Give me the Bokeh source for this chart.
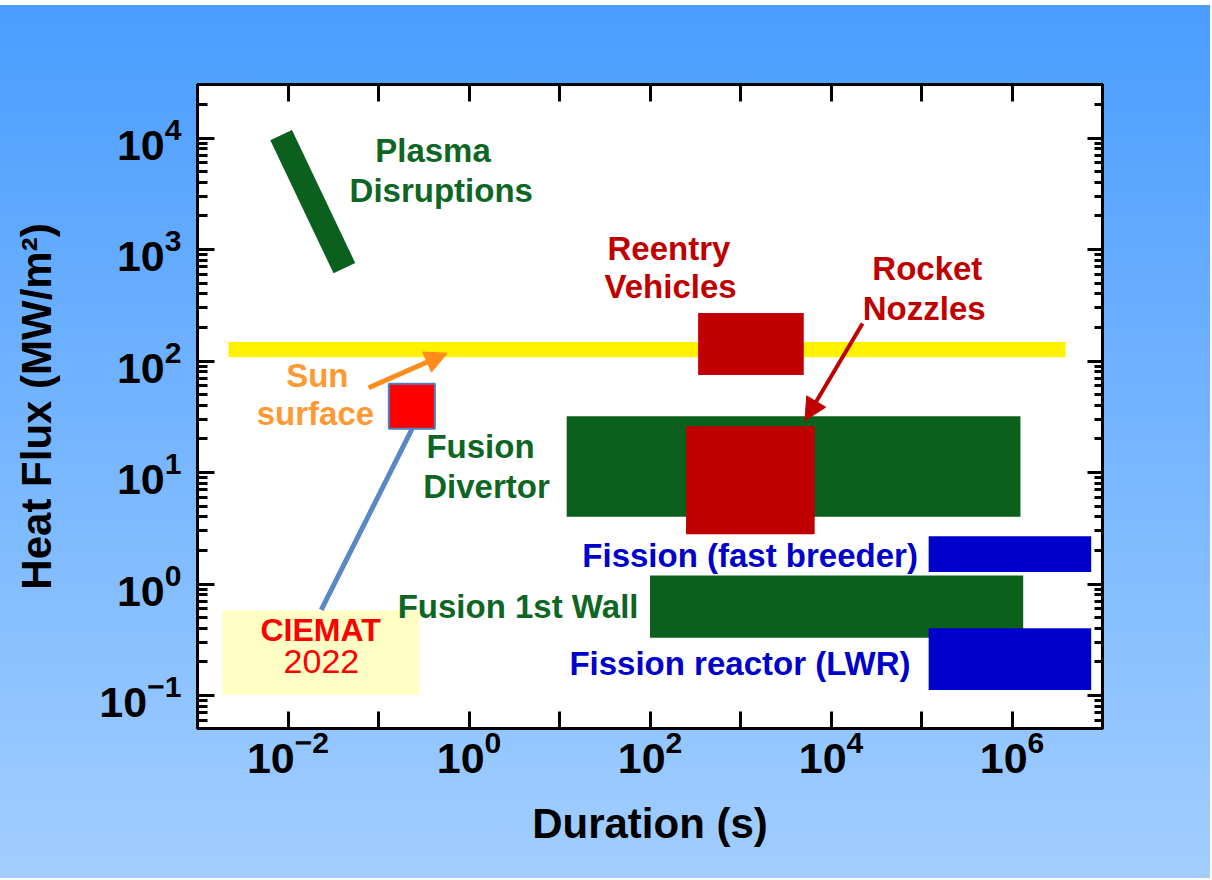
from bokeh.plotting import figure
from bokeh.models import LogAxis, FixedTicker, Arrow, NormalHead, ColumnDataSource
from bokeh.core.properties import value
from bokeh.embed import file_html
from bokeh.resources import INLINE

# ---------------- data ----------------
# rectangular regimes: duration range (s) x heat-flux range (MW/m2)
box_names = ["Sun surface", "Reentry Vehicles", "Fusion Divertor", "Rocket Nozzles",
             "Fusion 1st Wall", "Fission (fast breeder)", "Fission reactor (LWR)",
             "CIEMAT label", "CIEMAT 2022"]
dur_min = [2.2e-3, 340, 12, 250, 100, 1.2e5, 1.2e5, 1.87e-3, 0.13]
dur_max = [3.9e6, 5000, 1.24e6, 6600, 1.33e6, 7.5e6, 7.5e6, 0.284, 0.42]
flux_min = [108, 75, 4.0, 2.8, 0.33, 1.28, 0.112, 0.101, 24.7]
flux_max = [148, 270, 32, 26, 1.19, 2.68, 0.40, 0.578, 62.5]
box_colors = ["#FFF200", "#C00000", "#0C601E", "#C00000", "#0C601E",
              "#0000CC", "#0000CC", "#FFFFC6", "#FF0000"]
box_lines = [None, None, None, None, None, None, None, None, "#4F81BD"]

# plasma disruptions band (start / end of the band)
plasma_dur = [0.0084, 0.042]
plasma_flux = [10600, 680]

# leader line from CIEMAT point to its label
ciemat_line_dur = [0.2355, 0.0233]
ciemat_line_flux = [24.7, 0.587]

# arrows: (x_start, y_start, x_end, y_end)
sun_arrow = (0.078, 57.5, 0.574, 117.5)
rocket_arrow = (2.23e4, 217, 5160, 29.3)

# text labels
label_text = ["Plasma", "Disruptions", "Reentry", "Vehicles", "Rocket", "Nozzles",
              "Sun", "surface", "Fusion", "Divertor"]
label_x = [0.40, 0.494, 162, 169, 1.16e5, 1.07e5, 0.0211, 0.0201, 1.34, 1.56]
label_y = [6070, 2655, 797, 364, 527, 231, 58.2, 26.4, 13.4, 5.85]
label_color = ["#0E6624", "#0E6624", "#C00000", "#C00000", "#C00000", "#C00000",
               "#FF9933", "#FF9933", "#0E6624", "#0E6624"]

rlabel_text = ["Fission (fast breeder)", "Fusion 1st Wall", "Fission reactor (LWR)"]
rlabel_x = [9.12e4, 74.6, 7.55e4]
rlabel_y = [1.415, 0.491, 0.151]
rlabel_color = ["#0000CC", "#0E6624", "#0000CC"]

x_major = [1e-2, 1e0, 1e2, 1e4, 1e6]
x_minor = [1e-3, 1e-1, 1e1, 1e3, 1e5, 1e7]
x_all = [10.0 ** k for k in range(-3, 8)]
y_major = [10.0 ** k for k in range(-1, 5)]
y_minor = [m * 10.0 ** k for k in range(-2, 5) for m in range(2, 10)]

FONT = "Liberation Sans"
TEXT_SHIFT = -12  # screen-pixel nudge for the in-plot labels

p = figure(x_axis_type="log", y_axis_type="log",
           x_range=(1e-3, 1e7), y_range=(10 ** -1.296, 10 ** 4.48),
           frame_width=905, frame_height=644,
           min_border_left=197, min_border_right=108,
           min_border_top=84, min_border_bottom=150,
           toolbar_location=None, output_backend="svg",
           background_fill_color="white", border_fill_alpha=0.0,
           outline_line_color="black", outline_line_width=3)
p.styles = {"background": "linear-gradient(to bottom, #FFFFFF 0px, #FFFFFF 5px, #4A9DFF 5px, #A2CEFF 100%)"}
p.xgrid.grid_line_color = None
p.ygrid.grid_line_color = None


def style_axis(ax, major_in, minor_in):
    ax.axis_line_width = 3
    ax.axis_line_color = "black"
    ax.major_tick_line_width = 3
    ax.minor_tick_line_width = 3
    ax.major_tick_in = major_in
    ax.major_tick_out = 0
    ax.minor_tick_in = minor_in
    ax.minor_tick_out = 0
    ax.major_label_text_font = FONT
    ax.major_label_text_font_style = "bold"
    ax.major_label_text_font_size = "43px"
    ax.major_label_text_color = "black"
    ax.axis_label_text_font = FONT
    ax.axis_label_text_font_style = "bold"
    ax.axis_label_text_font_size = "42px"
    ax.axis_label_text_color = "black"


xa = p.xaxis[0]
xa.ticker = FixedTicker(ticks=x_major, minor_ticks=x_minor)
style_axis(xa, 17, 17)
xa.major_label_standoff = 1
xa.axis_label = "Duration (s)"
xa.axis_label_standoff = 24

ya = p.yaxis[0]
ya.ticker = FixedTicker(ticks=y_major, minor_ticks=y_minor)
style_axis(ya, 17, 10)
ya.major_label_standoff = 16
ya.axis_label = "Heat Flux (MW/m²)"
ya.axis_label_standoff = 36

ra = LogAxis(ticker=FixedTicker(ticks=y_major, minor_ticks=y_minor))
style_axis(ra, 15, 8)
ra.major_label_text_alpha = 0
p.add_layout(ra, "right")

ta = LogAxis(ticker=FixedTicker(ticks=x_all, minor_ticks=[]))
style_axis(ta, 17, 0)
ta.major_label_text_alpha = 0
ta.major_label_text_font_size = "1px"
p.add_layout(ta, "above")


# ---------------- marks ----------------
def sub(idx):
    return ColumnDataSource(dict(name=[box_names[i] for i in idx],
                                 left=[dur_min[i] for i in idx], right=[dur_max[i] for i in idx],
                                 bottom=[flux_min[i] for i in idx], top=[flux_max[i] for i in idx],
                                 color=[box_colors[i] for i in idx]))


order_back = [0, 7]
order_front = [1, 2, 3, 4, 5, 6]

p.quad(left="left", right="right", bottom="bottom", top="top", fill_color="color",
       line_color=None, source=sub(order_back))

p.line(plasma_dur, plasma_flux, line_width=24, line_color="#0C601E", line_cap="butt")

p.quad(left="left", right="right", bottom="bottom", top="top", fill_color="color",
       line_color=None, source=sub(order_front))

p.line(ciemat_line_dur, ciemat_line_flux, line_width=5, line_color="#5A88C6")

p.quad(left=[dur_min[8]], right=[dur_max[8]], bottom=[flux_min[8]], top=[flux_max[8]],
       fill_color=box_colors[8], line_color=box_lines[8], line_width=2)

orange = "#FF8C1A"
p.add_layout(Arrow(end=NormalHead(size=22, fill_color=orange, line_color=orange),
                   x_start=sun_arrow[0], y_start=sun_arrow[1],
                   x_end=sun_arrow[2], y_end=sun_arrow[3],
                   line_color=orange, line_width=5))
p.add_layout(Arrow(end=NormalHead(size=22, fill_color="#C00000", line_color="#C00000"),
                   x_start=rocket_arrow[0], y_start=rocket_arrow[1],
                   x_end=rocket_arrow[2], y_end=rocket_arrow[3],
                   line_color="#C00000", line_width=4))

p.text(x=label_x, y=label_y, text=label_text, text_color=label_color,
       text_font=value(FONT), text_font_style="bold", text_font_size="33px",
       text_align="center", text_baseline="alphabetic", y_offset=TEXT_SHIFT)
p.text(x=rlabel_x, y=rlabel_y, text=rlabel_text, text_color=rlabel_color,
       text_font=value(FONT), text_font_style="bold", text_font_size="33px",
       text_align="right", text_baseline="alphabetic", y_offset=TEXT_SHIFT)

p.text(x=[0.0229], y=[0.301], text=["CIEMAT"], text_color="#FF0000",
       text_font=value(FONT), text_font_style="bold", text_font_size="32px",
       text_align="center", text_baseline="alphabetic", y_offset=TEXT_SHIFT)
p.text(x=[0.0234], y=[0.157], text=["2022"], text_color="#FF0000",
       text_font=value(FONT), text_font_style="normal", text_font_size="34px",
       text_align="center", text_baseline="alphabetic", y_offset=TEXT_SHIFT)

open("out.html", "w").write(file_html(p, INLINE))
